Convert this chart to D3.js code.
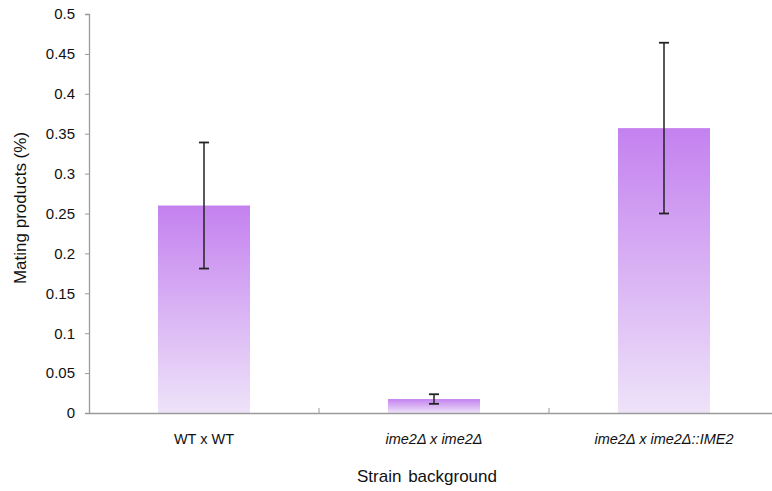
<!DOCTYPE html>
<html><head><meta charset="utf-8">
<script src="https://cdn.jsdelivr.net/npm/d3@7"></script>
<style>body{margin:0;background:#fff}svg{display:block;font-family:"Liberation Sans",Arial,sans-serif}</style>
</head><body>
<svg id="c" width="772" height="491"></svg>
<script>
const categories = ["WT x WT", "ime2Δ x ime2Δ", "ime2Δ x ime2Δ::IME2"];
const italicCats = [false, true, true];
const values = [0.260, 0.0175, 0.357];
const errors = [0.079, 0.006, 0.107];
const yTicks = [0, 0.05, 0.1, 0.15, 0.2, 0.25, 0.3, 0.35, 0.4, 0.45, 0.5];
const yTickLabels = ["0","0.05","0.1","0.15","0.2","0.25","0.3","0.35","0.4","0.45","0.5"];

(function(){
const svg = d3.select("#c");
const mLeft = 89, mRight = 779, mTop = 14, mBottom = 413;
const x = d3.scaleBand().domain(categories).range([mLeft, mRight]).paddingInner(0).paddingOuter(0);
const y = d3.scaleLinear().domain([0, 0.5]).range([mBottom, mTop]);

const defs = svg.append("defs");
const g = defs.append("linearGradient").attr("id","grad").attr("x1",0).attr("y1",0).attr("x2",0).attr("y2",1);
g.append("stop").attr("offset","0%").attr("stop-color","#c481ef");
g.append("stop").attr("offset","100%").attr("stop-color","#eee3f9");

const bw = x.bandwidth() * 0.4;
svg.selectAll("rect.bar").data(categories).enter().append("rect")
  .attr("class","bar")
  .attr("x", d => x(d) + x.bandwidth()/2 - bw/2)
  .attr("y", (d,i) => y(values[i]))
  .attr("width", bw)
  .attr("height", (d,i) => y(0) - y(values[i]))
  .attr("fill","url(#grad)");

const yAxis = d3.axisLeft(y).tickValues(yTicks).tickFormat((d,i) => yTickLabels[i]).tickSize(4).tickPadding(10);
const ya = svg.append("g").attr("transform", `translate(${mLeft},0)`).call(yAxis);
ya.select(".domain").attr("stroke","#9a9a9a").attr("stroke-width",1.3);
ya.selectAll(".tick line").attr("stroke","#9a9a9a");
ya.selectAll(".tick text").attr("fill","#111").style("font-size","15px").style("font-family","Liberation Sans, Arial, sans-serif");

const xa = svg.append("g").attr("transform", `translate(0,${mBottom})`).call(d3.axisBottom(x).tickSize(0).tickFormat(""));
xa.select(".domain").attr("stroke","#9a9a9a").attr("stroke-width",1.3);
xa.selectAll(".tick").remove();
const bounds = categories.slice(1).map(c => x(c));
svg.selectAll("line.bt").data(bounds).enter().append("line")
  .attr("x1", d => d).attr("x2", d => d).attr("y1", mBottom).attr("y2", mBottom - 5)
  .attr("stroke","#9a9a9a");

svg.selectAll("text.cat").data(categories).enter().append("text")
  .attr("x", d => x(d) + x.bandwidth()/2)
  .attr("y", 444)
  .attr("text-anchor","middle")
  .style("font-size","14.5px")
  .style("font-style",(d,i) => italicCats[i] ? "italic" : "normal")
  .attr("fill","#111")
  .text(d => d);

const eb = svg.selectAll("g.err").data(categories).enter().append("g").attr("class","err");
eb.append("line")
  .attr("x1", d => x(d)+x.bandwidth()/2).attr("x2", d => x(d)+x.bandwidth()/2)
  .attr("y1", (d,i) => y(values[i]+errors[i])).attr("y2", (d,i) => y(values[i]-errors[i]))
  .attr("stroke","#222").attr("stroke-width",1.5);
[1,-1].forEach(s => {
  eb.append("line")
    .attr("x1", d => x(d)+x.bandwidth()/2-5).attr("x2", d => x(d)+x.bandwidth()/2+5)
    .attr("y1", (d,i) => y(values[i]+s*errors[i])).attr("y2", (d,i) => y(values[i]+s*errors[i]))
    .attr("stroke","#222").attr("stroke-width",1.8);
});

svg.append("text").attr("x", 427).attr("y", 482).attr("text-anchor","middle")
  .style("font-size","17px").style("word-spacing","2px").attr("fill","#111").text("Strain background");
svg.append("text").attr("transform","translate(26,208) rotate(-90)").attr("text-anchor","middle")
  .style("font-size","17px").attr("fill","#111").text("Mating products (%)");
})();
</script>
</body></html>
